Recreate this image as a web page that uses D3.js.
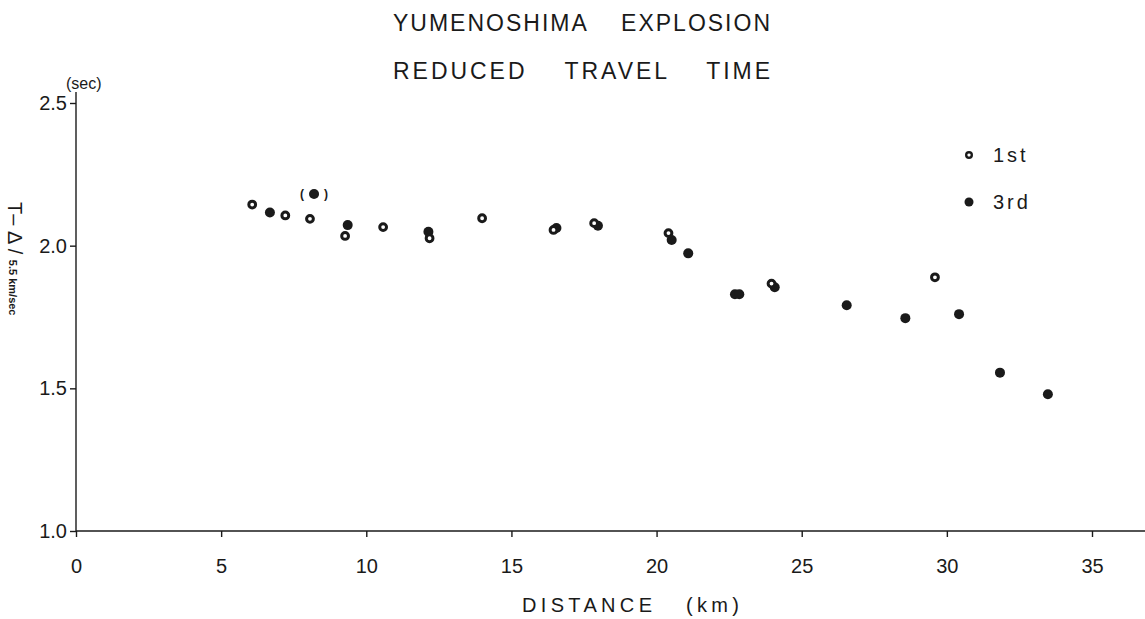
<!DOCTYPE html>
<html>
<head>
<meta charset="utf-8">
<script src="https://cdn.jsdelivr.net/npm/d3@7"></script>
<style>
  html, body { margin: 0; padding: 0; background: #fff; }
  svg { display: block; font-family: "Liberation Sans", "DejaVu Sans", sans-serif; }
  .axis text { font-size: 20px; fill: #1a1a1a; }
  .axis line, .axis path { stroke: #1a1a1a; stroke-width: 1.4; }
</style>
</head>
<body>
<svg id="chart" width="1145" height="619"></svg>
<script>
// 1st arrivals (open circles)
const dist1 = [6.07, 7.21, 8.06, 9.27, 10.58, 12.18, 13.99, 16.45, 17.85, 20.41, 23.96, 29.59];
const time1 = [2.144, 2.106, 2.094, 2.034, 2.065, 2.026, 2.096, 2.055, 2.079, 2.044, 1.867, 1.889];
// 3rd arrivals (solid circles)
const dist3 = [6.68, 8.2, 9.36, 12.14, 16.55, 17.98, 20.52, 21.09, 22.7, 22.85, 24.07, 26.55, 28.57, 30.42, 31.83, 33.48];
const time3 = [2.116, 2.181, 2.072, 2.049, 2.062, 2.07, 2.02, 1.973, 1.83, 1.83, 1.854, 1.791, 1.746, 1.76, 1.555, 1.479];
// the 3rd-arrival point drawn in brackets
const bracketed = [1];

const xTicks = [0, 5, 10, 15, 20, 25, 30, 35];
const yTicks = [1.0, 1.5, 2.0, 2.5];
const titleLines = ["YUMENOSHIMA    EXPLOSION", "REDUCED    TRAVEL    TIME"];
const legendItems = [{ label: "1st", open: true }, { label: "3rd", open: false }];

const svg = d3.select("#chart");
const ink = "#1a1a1a";

const x = d3.scaleLinear().domain([0, 35]).range([76, 1092]);
const y = d3.scaleLinear().domain([1.0, 2.5]).range([531, 103]);

// title
svg.append("g")
  .selectAll("text")
  .data(titleLines)
  .join("text")
  .attr("x", 393)
  .attr("y", (d, i) => 31 + i * 48)
  .attr("textLength", 377)
  .attr("lengthAdjust", "spacing")
  .attr("xml:space", "preserve")
  .style("white-space", "pre")
  .style("font-size", "23px")
  .style("fill", ink)
  .text((d) => d);

// x axis
const xAxis = svg.append("g")
  .attr("class", "axis")
  .attr("transform", `translate(0,${y(1.0)})`)
  .call(d3.axisBottom(x).tickValues(xTicks).tickSize(6).tickPadding(22).tickFormat(d3.format("d")));
xAxis.select(".domain").remove();
xAxis.append("line")
  .attr("x1", x(0))
  .attr("x2", 1145)
  .attr("stroke", ink)
  .attr("stroke-width", 1.6);

// y axis
const yAxis = svg.append("g")
  .attr("class", "axis")
  .attr("transform", `translate(${x(0)},0)`)
  .call(d3.axisLeft(y).tickValues(yTicks).tickSize(6).tickPadding(3).tickFormat(d3.format(".1f")));
yAxis.select(".domain").remove();
yAxis.append("line")
  .attr("y1", y(1.0))
  .attr("y2", 92)
  .attr("stroke", ink)
  .attr("stroke-width", 1.6);

svg.append("text")
  .attr("x", 66)
  .attr("y", 89)
  .style("font-size", "16px")
  .style("fill", ink)
  .text("(sec)");

// axis titles
svg.append("text")
  .attr("x", 522)
  .attr("y", 612)
  .attr("textLength", 217)
  .attr("lengthAdjust", "spacing")
  .attr("xml:space", "preserve")
  .style("white-space", "pre")
  .style("font-size", "20px")
  .style("fill", ink)
  .text("DISTANCE   (km)");

const yLabel = svg.append("text")
  .attr("transform", "translate(8,202) rotate(90)")
  .attr("xml:space", "preserve")
  .style("white-space", "pre")
  .style("fill", ink);
yLabel.append("tspan").style("font-size", "20px").text("T– Δ / ");
yLabel.append("tspan").style("font-size", "11px").style("font-weight", "bold").attr("dy", -1).text("5.5 km/sec");

// points
const pts1 = dist1.map((d, i) => ({ d, t: time1[i] }));
const pts3 = dist3.map((d, i) => ({ d, t: time3[i], bracket: bracketed.includes(i) }));

svg.append("g")
  .selectAll("circle")
  .data(pts3)
  .join("circle")
  .attr("cx", (p) => x(p.d))
  .attr("cy", (p) => y(p.t))
  .attr("r", 5)
  .attr("fill", ink);

svg.append("g")
  .selectAll("circle")
  .data(pts1)
  .join("circle")
  .attr("cx", (p) => x(p.d))
  .attr("cy", (p) => y(p.t))
  .attr("r", 3.4)
  .attr("fill", "#fff")
  .attr("stroke", ink)
  .attr("stroke-width", 3);

const br = pts3.filter((p) => p.bracket);
svg.append("g")
  .selectAll("text")
  .data(br.flatMap((p) => [{ p, s: "(", dx: -12 }, { p, s: ")", dx: 12 }]))
  .join("text")
  .attr("x", (b) => x(b.p.d) + b.dx)
  .attr("y", (b) => y(b.p.t) + 4)
  .attr("text-anchor", "middle")
  .style("font-size", "12px")
  .style("font-weight", "bold")
  .style("fill", ink)
  .text((b) => b.s);

// legend
const legend = svg.append("g")
  .selectAll("g")
  .data(legendItems)
  .join("g")
  .attr("transform", (d, i) => `translate(969,${155 + i * 47})`);
legend.append("circle")
  .attr("r", (d) => (d.open ? 2.8 : 4.5))
  .attr("fill", (d) => (d.open ? "#fff" : ink))
  .attr("stroke", ink)
  .attr("stroke-width", (d) => (d.open ? 2.4 : 0));
legend.append("text")
  .attr("x", 24)
  .attr("y", 7)
  .attr("xml:space", "preserve")
  .style("white-space", "pre")
  .style("font-size", "20px")
  .style("letter-spacing", "3px")
  .style("fill", ink)
  .text((d) => d.label);
</script>
</body>
</html>
